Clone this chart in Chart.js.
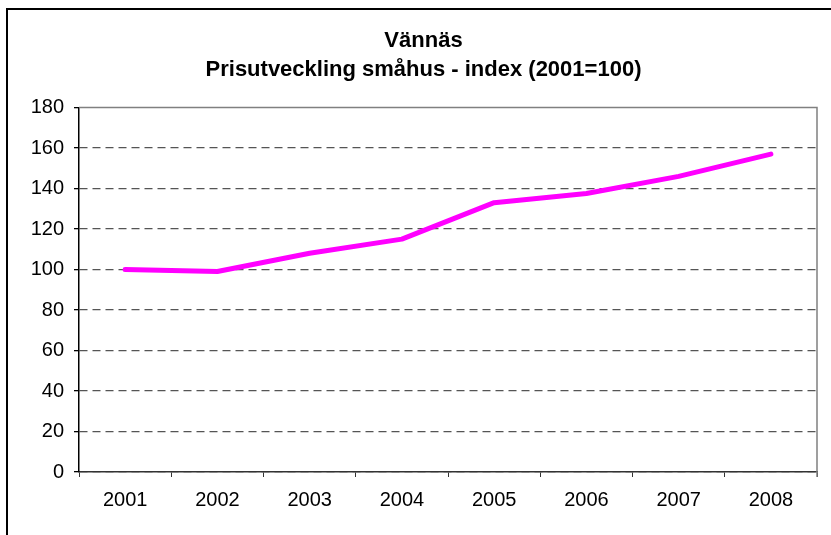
<!DOCTYPE html>
<html>
<head>
<meta charset="utf-8">
<script src="https://cdn.jsdelivr.net/npm/chart.js@4"></script>
<style>
  body { margin: 0; background: #fff; }
</style>
</head>
<body>
<canvas id="myChart" width="831" height="535"></canvas>
<script>
// chart data
const years = ["2001", "2002", "2003", "2004", "2005", "2006", "2007", "2008"];
const indexValues = [100, 99, 108, 115, 133, 137.5, 146, 157];
const yMin = 0;
const yMax = 180;
const yStep = 20;
const titleLines = ["Vännäs", "Prisutveckling småhus - index (2001=100)"];

//outer frame + plot border
const framePlugin = {
  id: "frame",
  beforeDraw(chart) {
    const c = chart.ctx;
    c.save();
    c.strokeStyle = "#000";
    c.lineWidth = 2;
    c.beginPath();
    c.moveTo(7, 535);
    c.lineTo(7, 9);
    c.lineTo(831, 9);
    c.stroke();
    c.restore();
  },
  afterDatasetsDraw(chart) {
    const a = chart.chartArea;
    const c = chart.ctx;
    c.save();
    c.strokeStyle = "#808080";
    c.lineWidth = 1.5;
    c.beginPath();
    c.moveTo(a.left, a.top);
    c.lineTo(a.right, a.top);
    c.lineTo(a.right, a.bottom + 5);
    c.stroke();
    c.restore();
  },
};

const data = {
  labels: years,
  datasets: [
    {
      label: "Index",
      data: indexValues,
      borderColor: "#ff00ff",
      borderWidth: 5,
      borderCapStyle: "round",
      borderJoinStyle: "round",
      pointRadius: 0,
      tension: 0,
    },
  ],
};

const config = {
  type: "line",
  data: data,
  plugins: [framePlugin],
  options: {
    responsive: false,
    animation: false,
    layout: { padding: { left: 30, right: 14, top: 0, bottom: 0 } },
    plugins: {
      legend: { display: false },
      tooltip: { enabled: false },
      title: {
        display: true,
        text: titleLines,
        color: "#000",
        font: { family: "'Liberation Sans', Arial, sans-serif", size: 22, weight: "bold", lineHeight: 1.33 },
        padding: { top: 26, bottom: 23 },
      },
    },
    scales: {
      x: {
        offset: true,
        afterFit: (scale) => { scale.height = 63; },
        grid: {
          offset: true,
          drawOnChartArea: false,
          drawTicks: true,
          tickLength: 5,
          tickColor: "#333",
        },
        border: { display: true, color: "#333", width: 1.5 },
        ticks: {
          color: "#000",
          padding: 11,
          font: { family: "'Liberation Sans', Arial, sans-serif", size: 20 },
        },
      },
      y: {
        min: yMin,
        max: yMax,
        afterFit: (scale) => { scale.width = 49; },
        grid: {
          color: (ctx) => (ctx.tick && ctx.tick.value === yMax ? "rgba(0,0,0,0)" : "#555"),
          lineWidth: 1.3,
          tickBorderDash: [],
          tickColor: "#000",
          tickLength: 5,
        },
        border: { display: true, color: "#000", width: 1.5, dash: [8, 5] },
        ticks: {
          stepSize: yStep,
          color: "#000",
          padding: 10,
          font: { family: "'Liberation Sans', Arial, sans-serif", size: 20 },
        },
      },
    },
  },
};

const myChart = new Chart(document.getElementById("myChart"), config);
</script>
</body>
</html>
